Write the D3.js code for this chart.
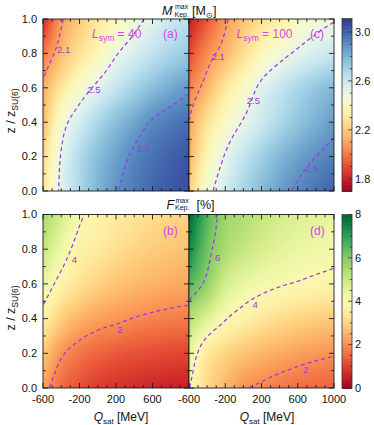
<!DOCTYPE html>
<html><head><meta charset="utf-8">
<script src="https://cdn.jsdelivr.net/npm/d3@7"></script>
<style>
body{margin:0;background:#fff;}
svg{display:block;font-family:"Liberation Sans",Arial,Helvetica,sans-serif;}
</style></head><body>
<svg id="chart" width="374" height="425"></svg>
<script>
// ---------------- DATA ----------------
const qGrid = [-600,-400,-200,0,200,400,600,800,1000];   // Q_sat [MeV]
const zGrid = [0,0.2,0.4,0.6,0.8,1.0];                     // z / z_SU(6)
const xTicks = [-600,-200,200,600,1000];
const yTicks = [0,0.2,0.4,0.6,0.8,1.0];
const massTicks = [1.8,2.2,2.6,3.0];
const fracTicks = [0,2,4,6,8];
const massLevels = [2.1,2.5,2.9];
const fracLevels = [2,4,6];
const massDomain = [1.7,3.11];
const fracDomain = [0,8];

// M_Kep^max [M_sun], rows = zGrid, cols = qGrid
const massL40 = [
  [2.30,2.53,2.68,2.80,2.89,2.95,3.00,3.03,3.06],
  [2.24,2.51,2.66,2.77,2.85,2.92,2.97,3.01,3.04],
  [2.16,2.44,2.57,2.68,2.77,2.84,2.91,2.95,2.98],
  [2.12,2.30,2.43,2.53,2.62,2.70,2.77,2.83,2.88],
  [2.00,2.16,2.28,2.38,2.49,2.56,2.63,2.69,2.74],
  [1.82,2.08,2.20,2.30,2.39,2.46,2.53,2.59,2.64]
];
const massL100 = [
  [2.22,2.45,2.58,2.69,2.78,2.86,2.92,2.97,3.01],
  [2.13,2.37,2.51,2.62,2.71,2.79,2.85,2.90,2.94],
  [2.10,2.28,2.41,2.51,2.60,2.68,2.75,2.81,2.87],
  [2.02,2.15,2.30,2.41,2.53,2.61,2.68,2.74,2.79],
  [1.90,2.05,2.15,2.27,2.38,2.46,2.52,2.57,2.61],
  [1.78,1.93,2.08,2.18,2.27,2.34,2.40,2.45,2.49]
];
// F_Kep^max [%]
const fracL40 = [
  [2.25,1.55,1.20,0.95,0.80,0.70,0.62,0.56,0.52],
  [2.85,2.10,1.72,1.50,1.36,1.26,1.18,1.12,1.08],
  [3.70,2.95,2.52,2.26,2.12,1.98,1.88,1.81,1.76],
  [4.45,3.75,3.30,3.00,2.78,2.62,2.50,2.40,2.33],
  [5.10,4.35,3.75,3.50,3.25,3.05,2.90,2.80,2.72],
  [5.60,4.85,4.12,3.80,3.58,3.38,3.22,3.10,3.00]
];
const fracL100 = [
  [4.02,3.10,2.55,2.08,1.88,1.72,1.60,1.50,1.42],
  [4.50,3.50,3.05,2.78,2.56,2.40,2.26,2.15,2.06],
  [5.40,4.65,4.05,3.70,3.42,3.22,3.06,2.94,2.85],
  [6.55,5.80,4.85,4.45,4.22,4.06,3.95,3.84,3.76],
  [7.45,6.25,5.50,5.10,4.80,4.58,4.42,4.30,4.20],
  [8.00,6.60,5.70,5.45,5.12,4.90,4.72,4.60,4.50]
];
const labelsA = [{t:'2.1',q:-447,z:0.82},{t:'2.5',q:-115,z:0.587},{t:'2.9',q:427,z:0.244}];
const labelsC = [{t:'2.1',q:-350,z:0.78},{t:'2.5',q:37,z:0.526},{t:'2.9',q:680,z:0.131}];
const labelsB = [{t:'4',q:-286,z:0.74},{t:'2',q:214,z:0.335}];
const labelsD = [{t:'6',q:-313,z:0.749},{t:'4',q:102,z:0.478},{t:'2',q:659,z:0.104}];

// ---------------- DRAW ----------------
const svg = d3.select('#chart');
const massColor = d3.scaleSequential(d3.interpolateRdYlBu).domain(massDomain).clamp(true);
const fracColor = d3.scaleSequential(d3.interpolateRdYlGn).domain(fracDomain).clamp(true);
const LINE = '#9a35ee', LBL = '#9a38dc', ANN = '#d845e6';

function cubicAt(vals, t){
  const n = vals.length;
  let i = Math.floor(t); if(i<0) i=0; if(i>n-2) i=n-2;
  const u = t - i, p1 = vals[i], p2 = vals[i+1];
  const p0 = i>0 ? vals[i-1] : 2*p1-p2;
  const p3 = i+2<n ? vals[i+2] : 2*p2-p1;
  return 0.5*(2*p1 + (-p0+p2)*u + (2*p0-5*p1+4*p2-p3)*u*u + (-p0+3*p1-3*p2+p3)*u*u*u);
}
const qIdx = d3.scaleLinear().domain(qGrid).range(d3.range(qGrid.length));
const zIdx = d3.scaleLinear().domain(zGrid).range(d3.range(zGrid.length));

const panels = [
  {table:massL40, x0:43, x1:189, y0:19, y1:191, color:massColor, step:0.01, lo:1.4, hi:3.3, levels:massLevels, labels:labelsA, left:true, lsym:'40', tag:'(a)'},
  {table:massL100, x0:189, x1:334, y0:19, y1:191, color:massColor, step:0.01, lo:1.4, hi:3.3, levels:massLevels, labels:labelsC, left:false, lsym:'100', tag:'(c)'},
  {table:fracL40, x0:43, x1:189, y0:214.5, y1:388, color:fracColor, step:0.04, lo:-1, hi:9, levels:fracLevels, labels:labelsB, left:true, tag:'(b)'},
  {table:fracL100, x0:189, x1:334, y0:214.5, y1:388, color:fracColor, step:0.04, lo:-1, hi:9, levels:fracLevels, labels:labelsD, left:false, tag:'(d)'}
];
const defs = svg.append('defs');

panels.forEach((p,k)=>{
  const x = d3.scaleLinear().domain([-600,1000]).range([p.x0,p.x1]);
  const y = d3.scaleLinear().domain([0,1]).range([p.y1,p.y0]);
  const nx = Math.round(p.x1-p.x0), ny = Math.round(p.y1-p.y0);
  const cols = [];
  for(let i=0;i<nx;i++){
    const q = x.invert(p.x0 + (i+0.5)*(p.x1-p.x0)/nx);
    cols.push(p.table.map(row=>cubicAt(row, qIdx(q))));
  }
  const vals = new Float64Array(nx*ny);
  for(let j=0;j<ny;j++){
    const z = y.invert(p.y0 + (j+0.5)*(p.y1-p.y0)/ny);
    const tz = zIdx(z);
    for(let i=0;i<nx;i++) vals[j*nx+i] = cubicAt(cols[i], tz);
  }
  const proj = d3.geoTransform({point(px,py){ this.stream.point(p.x0 + px*(p.x1-p.x0)/nx, p.y0 + py*(p.y1-p.y0)/ny); }});
  const path = d3.geoPath(proj);
  const clipId = 'clip'+k;
  defs.append('clipPath').attr('id',clipId).append('rect')
    .attr('x',p.x0).attr('y',p.y0).attr('width',p.x1-p.x0).attr('height',p.y1-p.y0);
  const g = svg.append('g').attr('clip-path',`url(#${clipId})`);
  const ths = d3.range(p.lo, p.hi, p.step);
  const bands = d3.contours().size([nx,ny]).thresholds(ths)(vals);
  g.selectAll('path.band').data(bands).join('path').attr('class','band')
    .attr('d',path).attr('fill',d=>p.color(d.value+p.step/2)).attr('stroke','none');

  // dashed contour lines
  const inside = pt => pt[0]>0 && pt[0]<nx && pt[1]>0 && pt[1]<ny;
  const lines = [];
  d3.contours().size([nx,ny]).thresholds(p.levels)(vals).forEach(c=>{
    c.coordinates.forEach(poly=>poly.forEach(ring=>{
      const n = ring.length-1, pts = ring.slice(0,n);
      const start = pts.findIndex(pt=>!inside(pt));
      if(start<0){ lines.push(ring); return; }
      let cur=[];
      for(let m=1;m<=n;m++){
        const pt = pts[(start+m)%n];
        if(inside(pt)) cur.push(pt); else { if(cur.length>1) lines.push(cur); cur=[]; }
      }
      if(cur.length>1) lines.push(cur);
    }));
  });
  const lineGen = d3.line().x(d=>p.x0 + d[0]*(p.x1-p.x0)/nx).y(d=>p.y0 + d[1]*(p.y1-p.y0)/ny);
  g.selectAll('path.cl').data(lines).join('path').attr('class','cl')
    .attr('d',lineGen).attr('fill','none').attr('stroke',LINE).attr('stroke-width',1.2)
    .attr('stroke-dasharray','4,3');
  g.selectAll('text.cl').data(p.labels).join('text').attr('class','cl')
    .attr('x',d=>x(d.q)).attr('y',d=>y(d.z)).attr('dy','0.35em')
    .attr('font-size',9.5).attr('fill',LBL).text(d=>d.t);

  // frame + ticks
  const a = svg.append('g').attr('stroke','#1a1a1a').attr('stroke-width',0.9);
  a.append('rect').attr('x',p.x0).attr('y',p.y0).attr('width',p.x1-p.x0).attr('height',p.y1-p.y0).attr('fill','none');
  d3.range(-600,1001,100).forEach(v=>{
    const L = xTicks.includes(v)?5:2.8, xx = x(v);
    a.append('line').attr('x1',xx).attr('x2',xx).attr('y1',p.y1).attr('y2',p.y1-L);
    a.append('line').attr('x1',xx).attr('x2',xx).attr('y1',p.y0).attr('y2',p.y0+L);
  });
  d3.range(0,11).map(v=>v/10).forEach(v=>{
    const L = (Math.round(v*10)%2===0)?5:2.8, yy = y(v);
    a.append('line').attr('x1',p.x0).attr('x2',p.x0+L).attr('y1',yy).attr('y2',yy);
    a.append('line').attr('x1',p.x1).attr('x2',p.x1-L).attr('y1',yy).attr('y2',yy);
  });
  if(p.left){
    svg.append('g').selectAll('text').data(yTicks).join('text')
      .attr('x',p.x0-6).attr('y',d=>y(d)).attr('dy','0.35em').attr('text-anchor','end')
      .attr('font-size',11).attr('fill','#111').text(d=>d.toFixed(1));
  }
  if(k>=2){
    const xt = p.left ? xTicks.slice(0,-1) : xTicks;
    svg.append('g').selectAll('text').data(xt).join('text')
      .attr('x',d=>x(d)).attr('y',403).attr('text-anchor','middle')
      .attr('font-size',11).attr('fill','#111').text(d=>d);
    const t = svg.append('text').attr('x',(p.left?121:267)).attr('y',420.5).attr('text-anchor','middle')
      .attr('font-size',12).attr('fill','#111');
    t.append('tspan').attr('font-style','italic').text('Q');
    t.append('tspan').attr('font-size',8).attr('dy',3).text('sat');
    t.append('tspan').attr('dy',-3).text(' [MeV]');
  }
  // annotations
  const tx = p.left ? 163 : 310, ty = k<2 ? 38 : 235;
  svg.append('text').attr('x',tx).attr('y',ty).attr('font-size',12).attr('fill',ANN).text(p.tag);
  if(p.lsym){
    const t = svg.append('text').attr('x',p.left?92:236.5).attr('y',38).attr('font-size',12).attr('fill',ANN);
    t.append('tspan').attr('font-style','italic').text('L');
    t.append('tspan').attr('font-size',8.5).attr('dy',3).text('sym');
    t.append('tspan').attr('dy',-3).text(' = '+p.lsym);
  }
});

// y-axis titles
[111,308].forEach(cy=>{
  const t = svg.append('text').attr('transform',`translate(15,${cy}) rotate(-90)`)
    .attr('text-anchor','middle').attr('font-size',12.5).attr('fill','#111');
  t.append('tspan').text('z / z');
  t.append('tspan').attr('font-size',8.5).attr('dy',3).text('SU(6)');
});

// panel titles
function title(x, base, main, subX, unitX, unitParts){
  const g = svg.append('g').attr('fill','#111');
  g.append('text').attr('x',x).attr('y',base).attr('font-size',12.5).attr('font-style','italic').text(main);
  g.append('text').attr('x',subX+0.5).attr('y',base-6).attr('font-size',7).text('max');
  g.append('text').attr('x',subX).attr('y',base+1.5).attr('font-size',7).text('Kep.');
  const t = g.append('text').attr('x',unitX).attr('y',base).attr('font-size',12.5);
  unitParts(t);
}
title(162,15,'M',174.5,192,t=>{ t.append('tspan').text('[M'); t.append('tspan').attr('font-size',8).attr('dy',2.5).text('\u2299'); t.append('tspan').attr('dy',-2.5).text(']'); });
title(166.5,208.5,'F',175,196.5,t=>{ t.text('[%]'); });

// colorbars
function colorbar(x0,x1,y0,y1,domain,color,step,ticks,minorStep,fmt){
  const s = d3.scaleLinear().domain(domain).range([y1,y0]);
  const bands = d3.range(domain[0],domain[1]-1e-9,step);
  svg.append('g').attr('shape-rendering','crispEdges').selectAll('rect').data(bands).join('rect')
    .attr('x',x0).attr('width',x1-x0)
    .attr('y',d=>s(Math.min(d+step,domain[1]))).attr('height',d=>s(d)-s(Math.min(d+step,domain[1]))+0.6)
    .attr('fill',d=>color(d+step/2));
  const a = svg.append('g').attr('stroke','#333').attr('stroke-width',0.8);
  a.append('rect').attr('x',x0).attr('y',y0).attr('width',x1-x0).attr('height',y1-y0).attr('fill','none');
  const minors = d3.range(Math.ceil(domain[0]/minorStep-1e-6), Math.floor(domain[1]/minorStep+1e-6)+1).map(v=>v*minorStep);
  minors.forEach(v=>{
    const major = ticks.some(t=>Math.abs(t-v)<1e-6);
    a.append('line').attr('x1',x1).attr('x2',x1-(major?4:2.3)).attr('y1',s(v)).attr('y2',s(v));
  });
  svg.append('g').selectAll('text').data(ticks).join('text')
    .attr('x',x1+3).attr('y',d=>s(d)).attr('dy','0.35em').attr('font-size',11).attr('fill','#111').text(fmt);
}
colorbar(342,352,18.5,191,massDomain,massColor,0.025,massTicks,0.1,d=>d.toFixed(1));
colorbar(342,352,214.5,388,fracDomain,fracColor,0.125,fracTicks,0.5,d=>d);
</script>
</body></html>
